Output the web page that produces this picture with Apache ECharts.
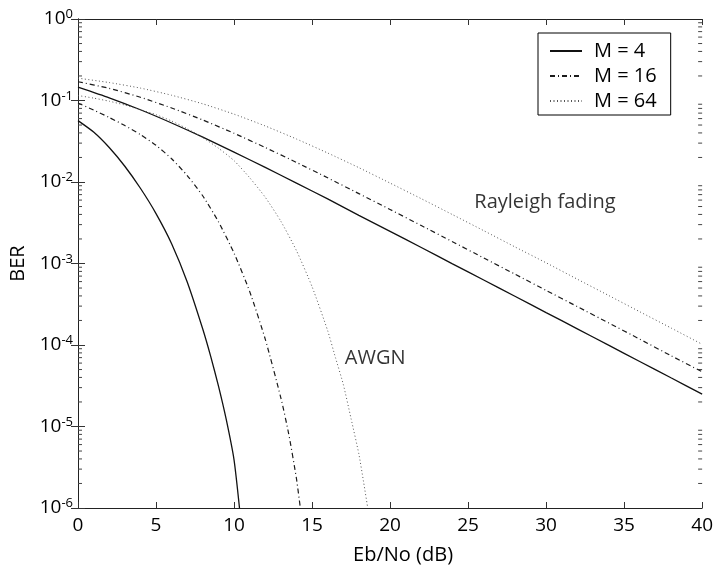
<!DOCTYPE html>
<html>
<head>
<meta charset="utf-8">
<script src="https://cdn.jsdelivr.net/npm/echarts@6/dist/echarts.min.js"></script>
<style>
  html, body { margin: 0; padding: 0; background: #fff; }
  #chart { width: 716px; height: 570px; }
</style>
</head>
<body>
<div id="chart"></div>
<script>
// Eb/No grid for the Rayleigh fading curves (dB)
const snrRayleigh = [0, 2, 4, 6, 8, 10, 12, 14, 16, 18, 20, 22, 24, 26, 28, 30, 32, 34, 36, 38, 40];
const berRayleigh4 = [0.146, 0.108, 0.077, 0.053, 0.0355, 0.0233, 0.0151, 0.0097, 0.0062, 0.0039, 0.00248,
  0.00157, 0.00099, 0.000627, 0.000396, 0.00025, 0.000158, 0.0000995, 0.0000628, 0.0000396, 0.000025];
const berRayleigh16 = [0.170, 0.141, 0.1095, 0.081, 0.0576, 0.0396, 0.0265, 0.0174, 0.01125, 0.0072, 0.0046,
  0.00292, 0.00185, 0.00117, 0.00074, 0.000468, 0.000296, 0.000187, 0.000118, 0.000074, 0.0000469];
const berRayleigh64 = [0.188, 0.166, 0.142, 0.116, 0.091, 0.068, 0.0487, 0.0337, 0.0227, 0.0150, 0.0097,
  0.00624, 0.00398, 0.00253, 0.0016, 0.00102, 0.000642, 0.000406, 0.000256, 0.000162, 0.000102];

// AWGN curves, each with its own Eb/No samples (dB)
const snrAwgn4 = [0, 1, 2, 3, 4, 5, 6, 7, 8, 8.5, 9, 9.5, 10, 10.35];
const berAwgn4 = [0.0566, 0.041, 0.0265, 0.0156, 0.00838, 0.0041, 0.00175, 0.000593, 0.000156, 0.000073,
  0.0000315, 0.0000122, 0.0000039, 0.000001];
const snrAwgn16 = [0, 1, 2, 3, 4, 5, 6, 7, 8, 9, 10, 11, 12, 13, 13.5, 14, 14.25];
const berAwgn16 = [0.093, 0.0764, 0.0619, 0.0493, 0.0382, 0.0282, 0.0193, 0.012, 0.00673, 0.00326, 0.00134,
  0.000455, 0.000118, 0.0000225, 0.0000082, 0.0000023, 0.000001];
const snrAwgn64 = [0, 1, 2, 3, 4, 5, 6, 7, 8, 9, 10, 11, 12, 13, 14, 15, 16, 16.5, 17, 17.5, 18, 18.3, 18.57];
const berAwgn64 = [0.115, 0.107, 0.098, 0.088, 0.077, 0.067, 0.056, 0.045, 0.035, 0.026, 0.0183, 0.0113,
  0.0065, 0.0033, 0.00144, 0.00052, 0.00015, 0.00007, 0.000033, 0.0000125, 0.0000046, 0.0000021, 0.000001];

// Legend entries and text annotations
const legendNames = ['M = 4', 'M = 16', 'M = 64'];
const annotationText = ['Rayleigh fading', 'AWGN'];
const annotationSnr = [25.4, 17.1];
const annotationBer = [0.0057, 0.000068];

// Axis settings; minor ticks sit at 2..9 times each decade
const xMin = 0, xMax = 40, xStep = 5;
const yMin = 1e-6, yMax = 1;
const decadeStarts = [1e-6, 1e-5, 1e-4, 1e-3, 1e-2, 1e-1];
const minorMultipliers = [2, 3, 4, 5, 6, 7, 8, 9];

const FONT = '"Open Sans"';
const pairs = (xs, ys) => xs.map((x, i) => [x, ys[i]]);

const styles = {
  'M = 4':  { color: '#111', width: 1.3, type: 'solid' },
  'M = 16': { color: '#1a1a1a', width: 1.2, type: [5, 3, 1, 3] },
  'M = 64': { color: '#555', width: 1, type: [1, 2.5] }
};

function curve(name, xs, ys) {
  return {
    type: 'line',
    name: name,
    data: pairs(xs, ys),
    symbol: 'none',
    smooth: 0.2,
    clip: true,
    silent: true,
    lineStyle: styles[name],
    itemStyle: { color: styles[name].color }
  };
}

// Log-spaced minor ticks on the left and right frame edges
const minorTickData = decadeStarts.flatMap(d => minorMultipliers.map(m => [xMin, d * m]));
const minorTickSeries = {
  type: 'custom',
  name: 'minor ticks',
  silent: true,
  coordinateSystem: 'cartesian2d',
  data: minorTickData,
  renderItem: function (params, api) {
    const v = api.value(1);
    const l = api.coord([xMin, v]);
    const r = api.coord([xMax, v]);
    const style = { stroke: '#444', lineWidth: 1 };
    return {
      type: 'group',
      children: [
        { type: 'line', shape: { x1: l[0], y1: l[1], x2: l[0] + 4, y2: l[1] }, style: style },
        { type: 'line', shape: { x1: r[0] - 4, y1: r[1], x2: r[0], y2: r[1] }, style: style }
      ]
    };
  }
};

const tickStyle = { lineStyle: { color: '#333', width: 1 } };

const option = {
  animation: false,
  backgroundColor: '#fff',
  grid: { left: 72, right: 13, top: 19, bottom: 54 },
  legend: {
    data: legendNames,
    orient: 'vertical',
    left: 538,
    top: 33,
    itemWidth: 32,
    itemHeight: 14,
    itemGap: 5,
    padding: [8, 14, 4, 11],
    borderColor: '#000',
    borderWidth: 1,
    backgroundColor: '#fff',
    selectedMode: false,
    itemStyle: { opacity: 0 },
    textStyle: { fontFamily: FONT, fontSize: 20, color: '#000', padding: [0, 0, 0, 7] }
  },
  xAxis: [
    {
      type: 'value', min: xMin, max: xMax, interval: xStep,
      name: 'Eb/No (dB)', nameLocation: 'middle', nameGap: 37,
      nameTextStyle: { fontFamily: FONT, fontSize: 20, color: '#000', padding: [0, 0, 0, 26] },
      axisLine: { lineStyle: { color: '#222', width: 1 } },
      axisTick: { inside: true, length: 6, ...tickStyle },
      axisLabel: { fontFamily: FONT, fontSize: 19, color: '#000', margin: 8 },
      splitLine: { show: false }
    },
    {
      type: 'value', min: xMin, max: xMax, interval: xStep, position: 'top',
      axisLine: { lineStyle: { color: '#222', width: 1 } },
      axisTick: { inside: true, length: 6, ...tickStyle },
      axisLabel: { show: false },
      splitLine: { show: false }
    }
  ],
  yAxis: [
    {
      type: 'log', logBase: 10, min: yMin, max: yMax,
      name: 'BER', nameLocation: 'middle', nameGap: 50,
      nameTextStyle: { fontFamily: FONT, fontSize: 20, color: '#000' },
      axisLine: { lineStyle: { color: '#222', width: 1 } },
      axisTick: { inside: true, length: 7, ...tickStyle },
      minorTick: { show: false },
      axisLabel: {
        margin: 5,
        formatter: v => '{b|10}{s|' + Math.round(Math.log10(v)) + '}',
        rich: {
          b: { fontFamily: FONT, fontSize: 19, color: '#000', lineHeight: 22 },
          s: { fontFamily: FONT, fontSize: 13, color: '#000', verticalAlign: 'top', lineHeight: 14 }
        }
      },
      splitLine: { show: false }
    },
    {
      type: 'log', logBase: 10, min: yMin, max: yMax, position: 'right',
      axisLine: { lineStyle: { color: '#222', width: 1 } },
      axisTick: { inside: true, length: 7, ...tickStyle },
      minorTick: { show: false },
      axisLabel: { show: false },
      splitLine: { show: false }
    }
  ],
  series: [
    curve('M = 4', snrRayleigh, berRayleigh4),
    curve('M = 16', snrRayleigh, berRayleigh16),
    curve('M = 64', snrRayleigh, berRayleigh64),
    curve('M = 4', snrAwgn4, berAwgn4),
    curve('M = 16', snrAwgn16, berAwgn16),
    curve('M = 64', snrAwgn64, berAwgn64),
    minorTickSeries,
    {
      type: 'scatter',
      name: 'annotations',
      symbolSize: 0,
      silent: true,
      data: annotationText.map((t, i) => ({ name: t, value: [annotationSnr[i], annotationBer[i]] })),
      label: {
        show: true, position: 'right', distance: 0, formatter: '{b}',
        fontFamily: FONT, fontSize: 20, color: '#000'
      }
    }
  ]
};

const chart = echarts.init(document.getElementById('chart'), null, { renderer: 'canvas' });
chart.setOption(option);
</script>
</body>
</html>
